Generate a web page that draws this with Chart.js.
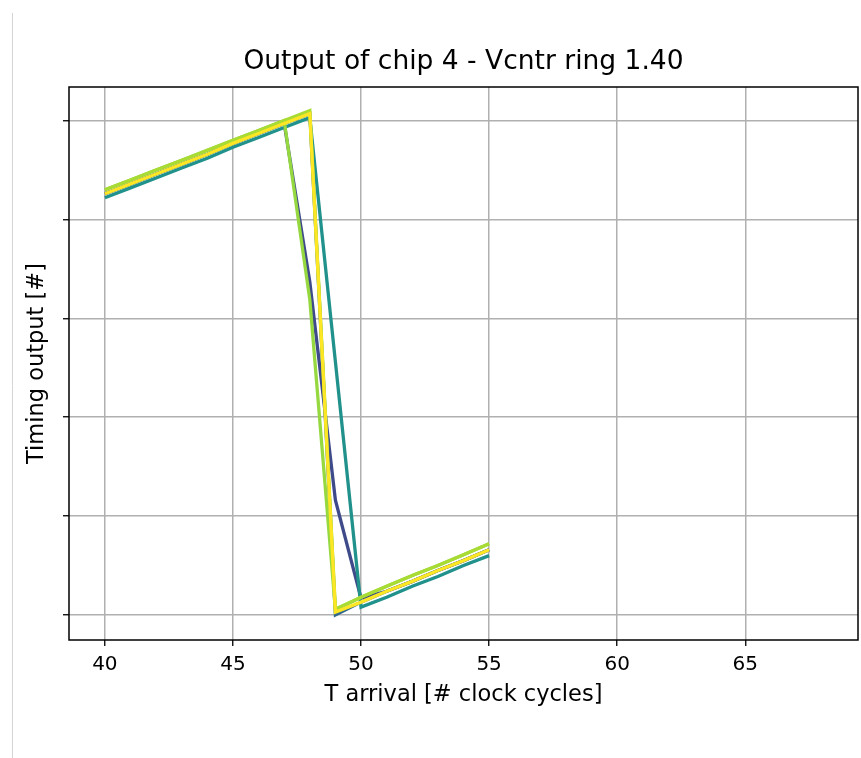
<!DOCTYPE html>
<html>
<head>
<meta charset="utf-8">
<script src="https://cdn.jsdelivr.net/npm/chart.js@4.4.1/dist/chart.umd.min.js"></script>
<style>
  html, body { margin: 0; padding: 0; background: #ffffff; }
  #wrap { width: 861px; height: 758px; position: relative; }
</style>
</head>
<body>
<div id="wrap"><canvas id="c" width="861" height="758"></canvas></div>
<script>
// Arrival time in clock cycles
const cycles = [40, 41, 42, 43, 44, 45, 46, 47, 48, 49, 50, 51, 52, 53, 54, 55];

// Timing output counts per configuration
const traceNavy   = [426, 436, 446, 456, 466, 477, 487, 497, 337, 116, 17, 24, 34, 45, 55, 66];
const traceBlue   = [426, 436, 446, 456, 466, 477, 487, 497, 507, 0, 13, 24, 34, 45, 55, 66];
const traceTeal   = [422, 432, 442, 452, 462, 473, 483, 493, 503, 256, 8, 18, 29, 39, 50, 60];
const traceGreen  = [430, 440, 450, 460, 470, 480, 490, 500, 319, 5, 18, 29, 40, 50, 61, 72];
const traceLime   = [430, 440, 450, 460, 470, 480, 490, 500, 510, 6, 18, 29, 40, 50, 61, 72];
const traceYellow = [426, 436, 446, 456, 466, 477, 487, 497, 507, 3, 13, 24, 34, 45, 55, 66];

// Unlabelled y tick positions and x tick labels
const yTicks = [0, 100, 200, 300, 400, 500];
const xTicks = [40, 45, 50, 55, 60, 65];

const chartTitle = 'Output of chip 4 - Vcntr ring 1.40';

const traces = [
  { data: traceNavy,   color: '#3e4a89' },
  { data: traceBlue,   color: '#31688e' },
  { data: traceTeal,   color: '#21918c' },
  { data: traceGreen,  color: '#95d840' },
  { data: traceLime,   color: '#a8db34' },
  { data: traceYellow, color: '#fde725' }
];

const datasets = traces.map((t, i) => ({
  data: cycles.map((c, k) => ({ x: c, y: t.data[k] })),
  borderColor: t.color,
  backgroundColor: t.color,
  borderWidth: 3.3,
  pointRadius: 0,
  tension: 0,
  fill: false,
  // later traces are painted over earlier ones
  order: traces.length - i
}));

const FONT = 'DejaVu Sans';

// Full black frame around the plotting area
const frame = {
  id: 'frame',
  afterDatasetsDraw(chart) {
    const { ctx, chartArea: a } = chart;
    ctx.save();
    ctx.strokeStyle = '#000000';
    ctx.lineWidth = 1.5;
    ctx.strokeRect(a.left, a.top, a.right - a.left, a.bottom - a.top);
    ctx.restore();
  }
};

// Title centred over the plotting area rather than the whole canvas
const axesTitle = {
  id: 'axesTitle',
  afterDraw(chart) {
    const { ctx, chartArea: a } = chart;
    ctx.save();
    ctx.fillStyle = '#000000';
    ctx.font = '26.5px "' + FONT + '"';
    ctx.textAlign = 'center';
    ctx.textBaseline = 'middle';
    ctx.fillText(chartTitle, (a.left + a.right) / 2, a.top - 25);
    ctx.restore();
  }
};

// Thin grey rule along the left edge of the page
const edgeRule = {
  id: 'edgeRule',
  beforeDraw(chart) {
    const { ctx } = chart;
    ctx.save();
    ctx.strokeStyle = '#d4d4d4';
    ctx.lineWidth = 1;
    ctx.beginPath();
    ctx.moveTo(12.5, 13);
    ctx.lineTo(12.5, 758);
    ctx.stroke();
    ctx.restore();
  }
};

new Chart(document.getElementById('c'), {
  type: 'line',
  data: { datasets },
  plugins: [edgeRule, frame, axesTitle],
  options: {
    responsive: false,
    animation: false,
    events: [],
    layout: { padding: { left: 0, right: 3, top: 87, bottom: 49.5 } },
    plugins: {
      legend: { display: false },
      tooltip: { enabled: false },
      title: { display: false }
    },
    scales: {
      x: {
        type: 'linear',
        min: 38.6,
        max: 69.4,
        afterBuildTicks(scale) { scale.ticks = xTicks.map(v => ({ value: v })); },
        afterFit(scale) { scale.height = 68.5; },
        border: { display: false },
        grid: { color: '#b0b0b0', lineWidth: 1.5, tickColor: '#000000', tickLength: 6, tickWidth: 1.3 },
        ticks: {
          color: '#000000',
          font: { family: FONT, size: 20 },
          padding: 7,
          maxRotation: 0,
          includeBounds: false
        },
        title: {
          display: true,
          text: 'T arrival [# clock cycles]',
          color: '#000000',
          font: { family: FONT, size: 22.5 },
          padding: { top: 0, bottom: 0 }
        }
      },
      y: {
        type: 'linear',
        min: -25.3,
        max: 534,
        afterBuildTicks(scale) { scale.ticks = yTicks.map(v => ({ value: v })); },
        afterFit(scale) { scale.width = 69; },
        border: { display: false },
        grid: { color: '#b0b0b0', lineWidth: 1.5, tickColor: '#000000', tickLength: 6, tickWidth: 1.3 },
        ticks: { display: false, includeBounds: false },
        title: {
          display: true,
          text: 'Timing output [#]',
          color: '#000000',
          font: { family: FONT, size: 22.5 },
          padding: { top: 23.5, bottom: 0 }
        }
      }
    }
  }
});
</script>
</body>
</html>
